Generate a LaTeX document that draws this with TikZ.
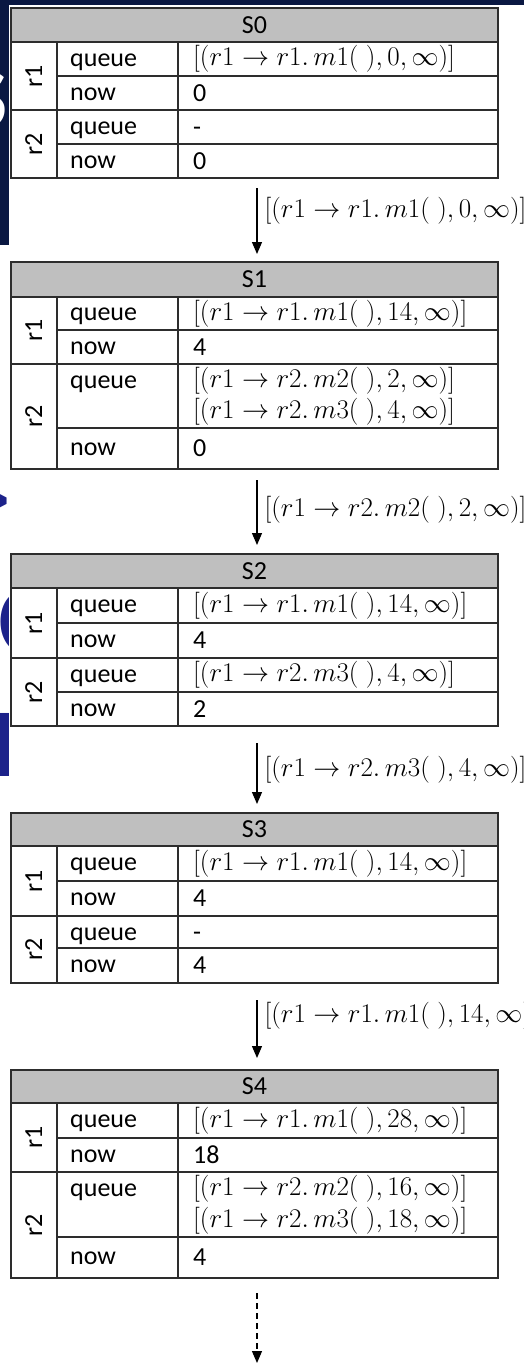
\RequirePackage{fix-cm}
\documentclass[tikz,border=0pt]{standalone}
\usepackage{fontspec}
\setmainfont{Carlito}
\usetikzlibrary{arrows.meta}
\definecolor{navy}{RGB}{10,24,66}
\definecolor{slideblue}{RGB}{28,34,138}
\definecolor{hdrgrey}{RGB}{191,191,191}
\definecolor{gridline}{RGB}{45,45,45}
\newcommand{\tabfont}{\fontsize{26}{30}\selectfont}
\newcommand{\mfont}{\fontsize{27}{32}\selectfont}
\newcommand{\qitem}[3]{$[(r1 \rightarrow r#1.\,m#2(\;),#3,\infty)]$}
\newcommand{\statetbl}[8]{%
  \fill[hdrgrey] (11,#3) rectangle (498,#4);
  \draw[grid] (11,#3) rectangle (498,#8);
  \draw[grid] (11,#4) -- (498,#4);
  \draw[grid] (11,#6) -- (498,#6);
  \draw[grid] (57,#5) -- (498,#5);
  \draw[grid] (57,#7) -- (498,#7);
  \draw[grid] (57,#4) -- (57,#8);
  \draw[grid] (178,#4) -- (178,#8);
  \node[cell] (#1h) at (254.5,{(#3+#4)/2}) {#2};
  \node[cell,rotate=90] (#1ra) at (34,{(#4+#6)/2}) {r1};
  \node[cell,rotate=90] (#1rb) at (34,{(#6+#8)/2}) {r2};
  \node[lbl] (#1qa) at (70,{(#4+#5)/2+1}) {queue};
  \node[lbl] (#1na) at (70,{(#5+#6)/2+1}) {now};
  \node[lbl] (#1qb) at (70,{#6+18}) {queue};
  \node[lbl] (#1nb) at (70,{(#7+#8)/2+1}) {now};
  \coordinate (#1top) at (257,#3);
  \coordinate (#1bot) at (257,#8);
}
\begin{document}
\begin{tikzpicture}[x=1pt,y=-1pt,
  grid/.style={draw=gridline,line width=1.1pt},
  cell/.style={inner sep=0pt,text height=16.4pt,text depth=0pt,font=\tabfont},
  lbl/.style={anchor=west,inner sep=0pt,text height=12pt,text depth=0pt,font=\tabfont},
  val/.style={anchor=west,inner sep=0pt,text height=16.4pt,text depth=0pt,font=\tabfont},
  mval/.style={anchor=west,inner sep=0pt,font=\mfont},
  arr/.style={line width=1.2pt,-{Triangle[length=12pt,width=10pt]}},
  albl/.style={anchor=west,inner sep=0pt,xshift=7pt,font=\mfont},
  frag/.style={inner sep=0pt,font=\fontsize{130}{130}\selectfont\bfseries}]
\useasboundingbox (0,0) rectangle (524,1365);
% slide background
\fill[navy] (0,0) rectangle (524,245);
\fill[white] (0,245) rectangle (524,1365);
\node[frag,white,font=\fontsize{85}{85}\selectfont\bfseries,anchor=base east] (fs) at (8,127) {S};
\node[frag,text=slideblue,anchor=east] (fgt) at (12,507) {>};
\node[frag,text=slideblue,anchor=base west] (fc) at (-3,653) {c};
\node[frag,text=slideblue,anchor=base west] (fn) at (-9,776) {n};
% pasted picture
\fill[white] (9,5) rectangle (524,1365);
% tables
\statetbl{S0}{S0}{8}{42}{76}{110}{144}{178}
\node[mval] (S0v1) at (193,59) {\qitem{1}{1}{0}};
\node[val] (S0v2) at (193,93) {0};
\node[val] (S0v3) at (193,127) {-};
\node[val] (S0v4) at (193,161) {0};

\statetbl{S1}{S1}{262}{297}{330}{364}{428}{469}
\node[mval] (S1v1) at (193,313.5) {\qitem{1}{1}{14}};
\node[val] (S1v2) at (193,347) {4};
\node[mval] (S1v3) at (193,381) {\qitem{2}{2}{2}};
\node[mval] (S1v4) at (193,412) {\qitem{2}{3}{4}};
\node[val] (S1v5) at (193,448.5) {0};

\statetbl{S2}{S2}{554}{588}{623}{658}{692}{726}
\node[mval] (S2v1) at (193,605.5) {\qitem{1}{1}{14}};
\node[val] (S2v2) at (193,640.5) {4};
\node[mval] (S2v3) at (193,675) {\qitem{2}{3}{4}};
\node[val] (S2v4) at (193,709) {2};

\statetbl{S3}{S3}{813}{846}{881}{916}{948}{983}
\node[mval] (S3v1) at (193,863.5) {\qitem{1}{1}{14}};
\node[val] (S3v2) at (193,898.5) {4};
\node[val] (S3v3) at (193,932) {-};
\node[val] (S3v4) at (193,965.5) {4};

\statetbl{S4}{S4}{1070}{1103}{1138}{1172}{1237}{1278}
\node[mval] (S4v1) at (193,1120.5) {\qitem{1}{1}{28}};
\node[val] (S4v2) at (193,1155) {18};
\node[mval] (S4v3) at (193,1189) {\qitem{2}{2}{16}};
\node[mval] (S4v4) at (193,1221) {\qitem{2}{3}{18}};
\node[val] (S4v5) at (193,1257.5) {4};

% transitions
\draw[arr] ([yshift=-10pt]S0bot) -- node[albl,pos=.34] (L1) {\qitem{1}{1}{0}} ([yshift=8pt]S1top);
\draw[arr] ([yshift=-11pt]S1bot) -- node[albl,pos=.45] (L2) {\qitem{2}{2}{2}} ([yshift=9pt]S2top);
\draw[arr] ([yshift=-17pt]S2bot) -- node[albl,pos=.44] (L3) {\qitem{2}{3}{4}} ([yshift=9pt]S3top);
\draw[arr] ([yshift=-17pt]S3bot) -- node[albl,pos=.27] (L4) {\qitem{1}{1}{14}} ([yshift=12pt]S4top);
\coordinate (more) at (257,1363);
\draw[arr,dash pattern=on 6pt off 4pt] ([yshift=-15pt]S4bot) -- (more);
\end{tikzpicture}
\end{document}
